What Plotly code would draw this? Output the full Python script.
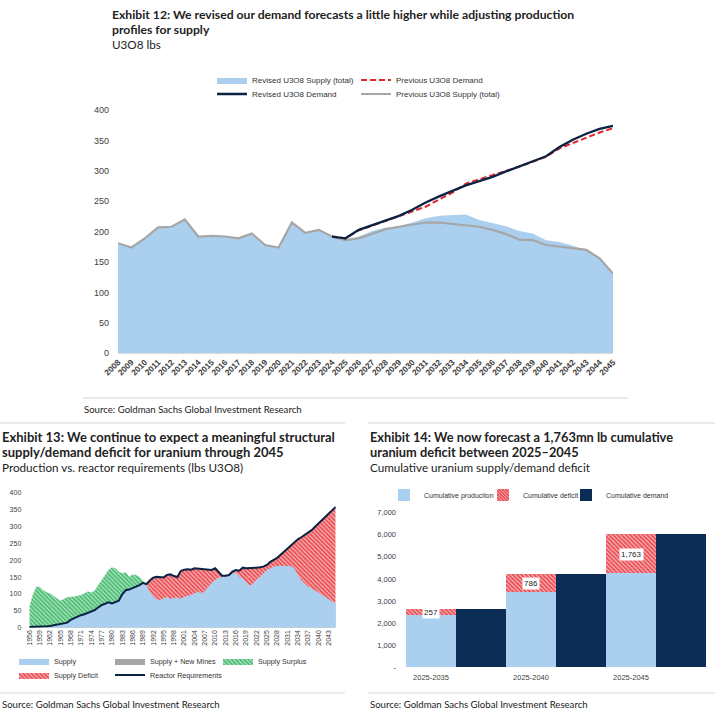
import plotly.graph_objects as go

W, H = 715, 713

# ---------------- Exhibit 12 data ----------------
years12 = list(range(2008, 2046))
revised_supply = [181, 174, 189, 207, 208, 220, 192, 193, 192, 189, 197, 178, 174, 215, 198, 203, 192,
                  187, 192, 201, 207, 209, 215, 222, 226, 227, 228, 219, 214, 209, 201, 197, 186, 183, 177, 170, 156, 131]
previous_supply = [181, 174, 189, 207, 208, 220, 192, 193, 192, 189, 197, 178, 174, 215, 198, 203, 192,
                   186, 189, 197, 204, 208, 212, 215, 215, 213, 211, 208, 203, 196, 187, 186, 178, 175, 173, 170, 156, 131]
demand_years12 = list(range(2024, 2046))
revised_demand = [192, 189, 203, 211, 218, 226, 236, 248, 258, 267, 276, 283, 290, 299, 307, 315, 324, 339, 351, 361, 369, 374]
previous_demand = [192, 189, 202, 210, 217, 225, 233, 241, 253, 264, 279, 286, 293, 299, 307, 315, 323, 337, 346, 355, 363, 370]

# ---------------- Exhibit 13 data ----------------
years13 = list(range(1956, 2046))
supply13 = [62, 97, 121, 121, 112, 105, 102, 95, 87, 80,
            85, 90, 92, 92, 95, 97, 102, 107, 104, 110,
            126, 141, 156, 171, 179, 176, 166, 161, 164, 151,
            158, 156, 151, 141, 126, 107, 92, 84, 82, 87,
            92, 86, 87, 90, 85, 92, 94, 97, 101, 107,
            101, 109, 121, 133, 141, 148, 151, 151, 156, 161,
            163, 151, 146, 136, 124, 131, 143, 151, 161, 171,
            176, 181, 183, 183, 183, 183, 183, 176, 156, 141,
            131, 121, 116, 111, 104, 97, 92, 84, 77, 74]
reactor_req13 = [2, 2, 3, 3, 3, 4, 5, 7, 10, 11,
                 12, 15, 23, 28, 33, 37, 40, 44, 47, 52,
                 60, 67, 71, 75, 72, 76, 80, 99, 111, 113,
                 117, 121, 126, 133, 129, 140, 148, 151, 151, 149,
                 156, 158, 153, 150, 168, 172, 173, 172, 176, 175,
                 174, 173, 172, 171, 176, 165, 154, 154, 156, 166,
                 171, 169, 178, 176, 176, 178, 178, 179, 181, 186,
                 195, 201, 207, 216, 225, 235, 245, 254, 262, 268,
                 275, 282, 289, 299, 309, 319, 329, 340, 351, 358]
ticks13 = list(range(1956, 2044, 3))

# ---------------- Exhibit 14 data ----------------
periods14 = ["2025-2035", "2025-2040", "2025-2045"]
cum_production = [2380, 3410, 4230]
cum_deficit = [257, 786, 1763]
cum_demand = [2637, 4196, 5993]
ticks14 = [0, 1000, 2000, 3000, 4000, 5000, 6000, 7000]
ticktext14 = ["-"] + [f"{v:,}" for v in ticks14[1:]]

# ---------------- styling ----------------
LIGHT_BLUE = "#ABCFEE"
NAVY = "#0A2342"
NAVY_BAR = "#0B2D55"
GREY = "#A6A6A6"
RED = "#E3262E"
GREEN = "#4FBE76"
HRED = "#EA5258"
TFONT = "Lato"
AFONT = "Liberation Sans, Arial, sans-serif"
TXT = "#222222"


def fx(p):
    return p / W


def fy(p):
    return 1 - p / H


fig = go.Figure()

# ---- Exhibit 12 ----
fig.add_trace(go.Scatter(x=years12, y=revised_supply, mode="lines", line=dict(width=0, color=LIGHT_BLUE),
                         fill="tozeroy", fillcolor=LIGHT_BLUE, name="Revised U3O8 Supply (total)",
                         legend="legend", xaxis="x", yaxis="y", hoverinfo="skip"))
fig.add_trace(go.Scatter(x=years12, y=previous_supply, mode="lines", line=dict(width=2.2, color=GREY),
                         name="Previous U3O8 Supply (total)", legend="legend4", xaxis="x", yaxis="y"))
fig.add_trace(go.Scatter(x=demand_years12, y=previous_demand, mode="lines",
                         line=dict(width=2, color=RED, dash="6px,3px"),
                         name="Previous U3O8 Demand", legend="legend2", xaxis="x", yaxis="y"))
fig.add_trace(go.Scatter(x=demand_years12, y=revised_demand, mode="lines", line=dict(width=2.3, color=NAVY),
                         name="Revised U3O8 Demand", legend="legend3", xaxis="x", yaxis="y"))

# ---- Exhibit 13 ----
lo13 = [min(s, d) for s, d in zip(supply13, reactor_req13)]
hi13 = [max(s, d) for s, d in zip(supply13, reactor_req13)]
fig.add_trace(go.Scatter(x=years13, y=lo13, mode="lines", line=dict(width=0, color=GREY), fill="tozeroy",
                         fillcolor=GREY, name="Supply + New Mines", legend="legend6", xaxis="x2", yaxis="y2"))
fig.add_trace(go.Scatter(x=years13, y=lo13, mode="lines", line=dict(width=0, color=LIGHT_BLUE), fill="tozeroy",
                         fillcolor=LIGHT_BLUE, name="Supply", legend="legend5", xaxis="x2", yaxis="y2"))
fig.add_trace(go.Scatter(x=years13, y=reactor_req13, mode="lines", line=dict(width=0), showlegend=False,
                         xaxis="x2", yaxis="y2", hoverinfo="skip"))
fig.add_trace(go.Scatter(x=years13, y=hi13, mode="lines", line=dict(width=0, color=GREEN), fill="tonexty",
                         fillcolor=GREEN,
                         fillpattern=dict(shape="\\", fgcolor="#CDEFD9", bgcolor=GREEN, size=3, solidity=0.3),
                         name="Supply Surplus", legend="legend7", xaxis="x2", yaxis="y2"))
fig.add_trace(go.Scatter(x=years13, y=lo13, mode="lines", line=dict(width=0), showlegend=False,
                         xaxis="x2", yaxis="y2", hoverinfo="skip"))
fig.add_trace(go.Scatter(x=years13, y=reactor_req13, mode="lines", line=dict(width=0, color=HRED),
                         fill="tonexty", fillcolor=HRED,
                         fillpattern=dict(shape="\\", fgcolor="#FAD2D3", bgcolor=HRED, size=3, solidity=0.3),
                         name="Supply Deficit", legend="legend8", xaxis="x2", yaxis="y2"))
fig.add_trace(go.Scatter(x=years13, y=reactor_req13, mode="lines", line=dict(width=2, color=NAVY),
                         name="Reactor Requirements", legend="legend9", xaxis="x2", yaxis="y2"))

# ---- Exhibit 14 ----
xprod = [2 * i for i in range(len(periods14))]
xdem = [2 * i + 1 for i in range(len(periods14))]
fig.add_trace(go.Bar(x=xprod, y=cum_production, marker=dict(color=LIGHT_BLUE, line=dict(width=0)),
                     name="Cumulative produciton", legend="legend10", xaxis="x3", yaxis="y3"))
fig.add_trace(go.Bar(x=xprod, y=cum_deficit,
                     marker=dict(color=HRED, line=dict(width=0),
                                 pattern=dict(shape="\\", fgcolor="#FAD2D3", bgcolor=HRED, size=3, solidity=0.3)),
                     name="Cumulative deficit", legend="legend11", xaxis="x3", yaxis="y3"))
fig.add_trace(go.Bar(x=xdem, y=cum_demand, marker=dict(color=NAVY_BAR, line=dict(width=0)),
                     name="Cumulative demand", legend="legend12", xaxis="x3", yaxis="y3"))

annotations = []
for xp, p, d in zip(xprod, cum_production, cum_deficit):
    annotations.append(dict(x=xp, y=p + d / 2, xref="x3", yref="y3", text=f"{d:,}", showarrow=False,
                            bgcolor="white", font=dict(size=8, family=AFONT, color=TXT), borderpad=1))


def note(text, x, y, size, bold=False, color=TXT, family=TFONT):
    annotations.append(dict(text=f"<b>{text}</b>" if bold else text, x=fx(x), y=fy(y), xref="paper", yref="paper",
                            xanchor="left", yanchor="middle", showarrow=False,
                            font=dict(size=size, family=family, color=color)))


note("Exhibit 12: We revised our demand forecasts a little higher while adjusting production", 110, 15, 12.2, True)
note("profiles for supply", 110, 30, 12.2, True)
note("U3O8 lbs", 110, 44, 11.7)
note("Source: Goldman Sachs Global Investment Research", 82, 409, 9.6)

note("Exhibit 13: We continue to expect a meaningful structural", 0, 437, 13, True)
note("supply/demand deficit for uranium through 2045", 0, 452, 13, True)
note("Production vs. reactor requirements (lbs U3O8)", 0, 467, 11.7)
note("Source: Goldman Sachs Global Investment Research", 0, 704, 9.6)

note("Exhibit 14: We now forecast a 1,763mn lb cumulative", 368, 437, 12.8, True)
note("uranium deficit between 2025\u20132045", 368, 452, 12.8, True)
note("Cumulative uranium supply/demand deficit", 368, 467, 11.7)
note("Source: Goldman Sachs Global Investment Research", 368, 704, 9.6)

shapes = []
for x0, x1, y in [(83, 628, 398), (0, 345, 423), (368, 715, 423), (0, 345, 693), (368, 715, 693)]:
    shapes.append(dict(type="line", xref="paper", yref="paper", x0=fx(x0), x1=fx(x1), y0=fy(y), y1=fy(y),
                       line=dict(color="#D6D6D6", width=1)))


def leg(text_x, yc, size=8):
    return dict(x=fx(text_x - 40), y=fy(yc), xanchor="left", yanchor="middle", orientation="h",
                bgcolor="rgba(0,0,0,0)", borderwidth=0, itemwidth=30,
                font=dict(size=size, family=AFONT, color="#333333"))


axfont = dict(family=AFONT, size=9, color="#404040")
fig.update_layout(
    template="none",
    width=W, height=H, margin=dict(l=0, r=0, t=0, b=0, autoexpand=False),
    paper_bgcolor="white", plot_bgcolor="white",
    showlegend=True, barmode="relative", bargap=0,
    annotations=annotations, shapes=shapes,
    legend=leg(252, 80), legend2=leg(396, 80), legend3=leg(252, 94), legend4=leg(396, 94),
    legend5=leg(54, 661, 7.2), legend6=leg(150, 661, 7.2), legend7=leg(258, 661, 7.2),
    legend8=leg(54, 675, 7.2), legend9=leg(150, 675, 7.2),
    legend10=leg(424, 495, 7), legend11=leg(523, 495, 7), legend12=leg(606, 495, 7),
    xaxis=dict(domain=[fx(118), fx(613)], range=[2008, 2045], tickvals=years12,
               ticktext=[f"<b>{y}</b>" for y in years12], tickangle=-45, showgrid=False, zeroline=False,
               showline=True, linecolor="#D9D9D9", linewidth=1, ticks="", automargin=False,
               tickfont=dict(family=AFONT, size=8.3, color="#404040"), anchor="y"),
    yaxis=dict(domain=[fy(353.3), fy(110)], range=[0, 400], dtick=50, showgrid=False, zeroline=False,
               ticks="", ticklabelstandoff=8, tickfont=axfont, anchor="x", automargin=False),
    xaxis2=dict(domain=[fx(29.3), fx(335.7)], range=[1956, 2045], tickvals=ticks13,
                ticktext=[str(y) for y in ticks13], tickangle=-90, showgrid=False, zeroline=False,
                showline=False, ticks="", tickfont=dict(family=AFONT, size=7, color="#404040"), anchor="y2",
                automargin=False),
    yaxis2=dict(domain=[fy(627.7), fy(492.7)], range=[0, 400], dtick=50, showgrid=False, zeroline=False,
                ticks="", ticklabelstandoff=7, tickfont=dict(family=AFONT, size=7, color="#404040"), anchor="x2",
                automargin=False),
    xaxis3=dict(domain=[fx(406), fx(706)], range=[-0.5, 5.5], tickvals=xprod, ticktext=periods14,
                showgrid=False, zeroline=False, showline=False, ticks="", ticklabelstandoff=4,
                tickfont=dict(family=AFONT, size=7.5, color="#404040"), anchor="y3", automargin=False),
    yaxis3=dict(domain=[fy(667.7), fy(512.3)], range=[0, 7000], tickvals=ticks14, ticktext=ticktext14,
                showgrid=False, zeroline=False, ticks="", ticklabelstandoff=9,
                tickfont=dict(family=AFONT, size=7.5, color="#404040"), anchor="x3", automargin=False),
)

# The browser's default 8px body margin would offset the fixed-size figure; remove it.
fig.write_html("out.html", config={"displayModeBar": False},
               post_script="document.body.style.margin='0px';")
